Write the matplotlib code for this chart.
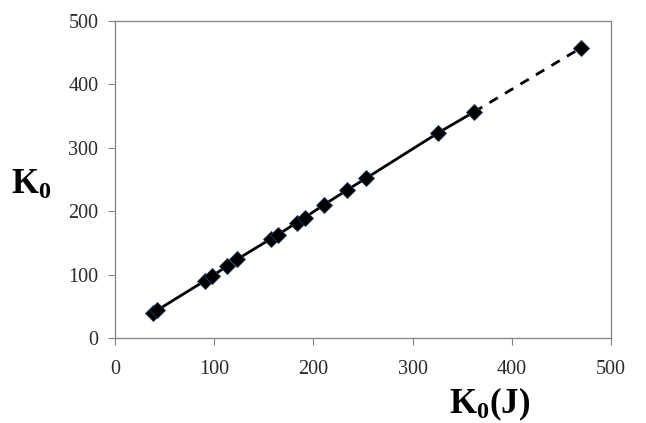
import matplotlib.pyplot as plt

# K0 from J versus reference K0
k0_j = [38.6, 42.7, 90.7, 98.0, 113.2, 123.0, 157.3, 164.3, 183.1, 191.2,
        210.3, 233.9, 253.0, 326.0, 361.9, 469.5]
k0 = [39.0, 44.0, 90.4, 97.8, 113.6, 124.0, 156.6, 163.0, 181.9, 189.8,
      209.8, 233.4, 251.9, 323.8, 356.5, 457.4]

plt.rcParams['font.family'] = ['Liberation Serif', 'DejaVu Serif']
plt.rcParams['mathtext.fontset'] = 'custom'
plt.rcParams['mathtext.rm'] = 'Liberation Serif'
plt.rcParams['mathtext.bf'] = 'Liberation Serif:bold'

fig = plt.figure(figsize=(6.46, 4.23), dpi=100)
ax = fig.add_axes([115 / 646, 1 - 338 / 423, 496 / 646, 317 / 423])

# fitted range solid, extrapolated point dashed
ax.plot(k0_j[:-1], k0[:-1], color='black', lw=2, zorder=2)
ax.plot(k0_j[-2:], k0[-2:], color='black', lw=2, ls=(0, (3.5, 3)), zorder=2)
ax.plot(k0_j, k0, ls='none', marker='D', ms=8, mfc='black',
        mec='#1f3a5f', mew=0.6, zorder=3)

ax.set_xlim(0, 500)
ax.set_ylim(0, 500)
ax.set_xticks(range(0, 501, 100))
ax.set_yticks(range(0, 501, 100))
ax.tick_params(direction='out', length=5, width=0.8, color='#808080',
               labelsize=14.5, labelcolor='#2a2a2a', pad=11)
ax.tick_params(axis='y', pad=7)
for s in ax.spines.values():
    s.set_color('#808080')
    s.set_linewidth(0.9)

fig.text(31 / 646, 1 - 185 / 423, r'$\mathbf{K_0}$', fontsize=25,
         ha='center', va='center')
fig.text(490 / 646, 1 - 404 / 423, r'$\mathbf{K_0(J)}$', fontsize=25,
         ha='center', va='center')

fig.savefig('out.png', dpi=100, facecolor='white')
